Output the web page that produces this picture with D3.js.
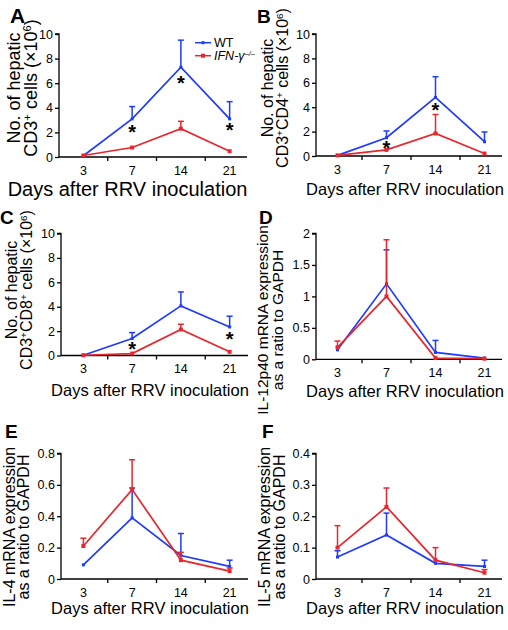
<!DOCTYPE html>
<html><head><meta charset="utf-8">
<script src="https://cdn.jsdelivr.net/npm/d3@7"></script>
<style>
body{margin:0;background:#fff}
text{font-family:"Liberation Sans",Arial,Helvetica,sans-serif}
</style></head>
<body><svg id="chart" width="508" height="630"></svg>
<script>
// ---------- DATA ----------
const days = ["3", "7", "14", "21"];
const seriesNames = ["WT", "IFN-γ"];

// A: CD3+ (x10^6)
const aWT = [0.1, 3.1, 7.3, 3.1];
const aWTErr = [0, 1.0, 2.2, 1.4];
const aKO = [0.12, 0.77, 2.3, 0.47];
const aKOErr = [0, 0, 0.6, 0];
const aStars = [["7", 2.36], ["14", 6.34], ["21", 2.52]];

// B: CD3+CD4+ (x10^6)
const bWT = [0.05, 1.5, 4.8, 1.17];
const bWTErr = [0, 0.55, 1.7, 0.8];
const bKO = [0.05, 0.5, 1.85, 0.2];
const bKOErr = [0, 0, 1.55, 0];
const bStars = [["7", 0.98], ["14", 4.1]];

// C: CD3+CD8+ (x10^6)
const cWT = [0.02, 1.39, 4.07, 2.34];
const cWTErr = [0, 0.49, 1.14, 0.88];
const cKO = [0.02, 0.16, 2.13, 0.3];
const cKOErr = [0, 0, 0.43, 0];
const cStars = [["7", 0.85], ["21", 1.68]];

// D: IL-12p40 mRNA / GAPDH
const dWT = [0.15, 1.2, 0.11, 0.02];
const dWTErr = [0, 0.54, 0.19, 0];
const dKO = [0.19, 1.0, 0.02, 0.01];
const dKOErr = [0.1, 0.9, 0, 0];

// E: IL-4 mRNA / GAPDH
const eWT = [0.09, 0.39, 0.15, 0.08];
const eWTErr = [0, 0.19, 0.14, 0.04];
const eKO = [0.21, 0.57, 0.12, 0.05];
const eKOErr = [0.05, 0.19, 0.05, 0.02];

// F: IL-5 mRNA / GAPDH
const fWT = [0.07, 0.14, 0.05, 0.04];
const fWTErr = [0.02, 0.07, 0, 0.02];
const fKO = [0.10, 0.23, 0.06, 0.02];
const fKOErr = [0.07, 0.06, 0.04, 0.01];

const ticksCells = [0, 2, 4, 6, 8, 10];
const ticksD = [0, 0.5, 1, 1.5, 2];
const ticksE = [0, 0.2, 0.4, 0.6, 0.8];
const ticksF = [0, 0.1, 0.2, 0.3, 0.4];

// ---------- STYLE / LAYOUT ----------
const BLUE = "#1f3bff", RED = "#e8262d";
const svg = d3.select("#chart");

const panels = [
  {id:"A", wt:aWT, wtE:aWTErr, ko:aKO, koE:aKOErr, stars:aStars, ticks:ticksCells,
   ax:59, band:[59,254], axEnd:247, top:34, bot:157,
   lab:[10,23,21], tl:[["No. of hepatic"],[["CD3"],["+","sup"],[" cells (×10"],["6","sup"],[")"]]],
   tb:[20,37], tc:88, tfs:18, xt:[127.5,196,20], legend:true},
  {id:"B", wt:bWT, wtE:bWTErr, ko:bKO, koE:bKOErr, stars:bStars, ticks:ticksCells,
   ax:316, band:[313,509], axEnd:502, top:34, bot:156,
   lab:[257,23,19], tl:[["No. of hepatic"],[["CD3"],["+","sup"],["CD4"],["+","sup"],[" cells (×10"],["6","sup"],[")"]]],
   tb:[273,288], tc:88, tfs:16, xt:[405,195,16.5]},
  {id:"C", wt:cWT, wtE:cWTErr, ko:cKO, koE:cKOErr, stars:cStars, ticks:ticksCells,
   ax:61, band:[59,254], axEnd:248, top:233.5, bot:355.5,
   lab:[0,224,19], tl:[["No. of hepatic"],[["CD3"],["+","sup"],["CD8"],["+","sup"],[" cells (×10"],["6","sup"],[")"]]],
   tb:[17,32], tc:290, tfs:16, xt:[150,396,16.5]},
  {id:"D", wt:dWT, wtE:dWTErr, ko:dKO, koE:dKOErr, stars:[], ticks:ticksD,
   ax:316, band:[313,509], axEnd:502, top:233.5, bot:359.3,
   lab:[259,224,19], tl:[["IL-12p40 mRNA expression"],["as a ratio to GAPDH"]],
   tb:[268,283], tc:320, tfs:15.5, xt:[405,397,16.5]},
  {id:"E", wt:eWT, wtE:eWTErr, ko:eKO, koE:eKOErr, stars:[], ticks:ticksE,
   ax:61, band:[59,254], axEnd:248, top:453.5, bot:579,
   lab:[5,438,19], tl:[["IL-4 mRNA expression"],["as a ratio to GAPDH"]],
   tb:[15,29], tc:527, tfs:16, xt:[150,614,16.5]},
  {id:"F", wt:fWT, wtE:fWTErr, ko:fKO, koE:fKOErr, stars:[], ticks:ticksF,
   ax:316, band:[313,509], axEnd:502, top:453.5, bot:579,
   lab:[262,438,19], tl:[["IL-5 mRNA expression"],["as a ratio to GAPDH"]],
   tb:[270,285], tc:527, tfs:16, xt:[405,614,16.5]}
];

function addLine(sel, line){
  if (typeof line[0] === "string") { sel.text(line[0]); return; }
  let prevSup = false;
  line.forEach(seg => {
    const isSup = seg[1] === "sup";
    const t = sel.append("tspan").text(seg[0]);
    if (isSup) t.attr("font-size","0.62em").attr("dy", prevSup ? 0 : "-0.55em");
    else if (prevSup) t.attr("dy","0.34em");
    prevSup = isSup;
  });
}

panels.forEach(p => {
  const g = svg.append("g");
  const x = d3.scaleBand().domain(days).range(p.band);
  const cx = d => x(d) + x.bandwidth()/2;
  const yMax = p.ticks[p.ticks.length-1];
  const y = d3.scaleLinear().domain([0, yMax]).range([p.bot, p.top]);

  const ya = g.append("g").attr("transform",`translate(${p.ax},0)`)
    .call(d3.axisLeft(y).tickValues(p.ticks).tickSize(4).tickPadding(2).tickFormat(d3.format("~g")));
  ya.select(".domain").attr("d", `M-4,${p.top}H0V${p.bot}`).attr("stroke","#000").attr("stroke-width",1.3);
  ya.selectAll(".tick line").attr("stroke","#000").attr("stroke-width",1.3);
  ya.selectAll(".tick text").attr("font-size",12.5).attr("fill","#000")
    .style("font-family",'"Liberation Sans",Arial,sans-serif');

  const xa = g.append("g").attr("transform",`translate(0,${p.bot})`)
    .call(d3.axisBottom(x).tickSize(0).tickPadding(6));
  xa.select(".domain").attr("d", `M${p.ax},0H${p.axEnd}`).attr("stroke","#000").attr("stroke-width",1.3);
  xa.selectAll(".tick text").attr("font-size",12.5).attr("fill","#000").attr("dy","0.95em")
    .style("font-family",'"Liberation Sans",Arial,sans-serif');
  g.append("g").selectAll("line").data(days.slice(1)).join("line")
    .attr("x1", d => x(d)).attr("x2", d => x(d))
    .attr("y1", p.bot).attr("y2", p.bot + 4)
    .attr("stroke","#000").attr("stroke-width",1.3);

  g.append("text").attr("x",p.xt[0]).attr("y",p.xt[1]).attr("text-anchor","middle")
    .attr("font-size",p.xt[2]).text("Days after RRV inoculation");

  p.tl.forEach((line,i) => {
    const t = g.append("text")
      .attr("transform",`translate(${p.tb[i]},${p.tc}) rotate(-90)`)
      .attr("text-anchor","middle").attr("font-size",p.tfs);
    addLine(t, line);
  });

  g.append("text").attr("x",p.lab[0]).attr("y",p.lab[1]).attr("font-size",p.lab[2])
    .attr("font-weight","bold").text(p.id);

  const series = [
    {vals:p.wt, err:p.wtE, color:BLUE, ms:3},
    {vals:p.ko, err:p.koE, color:RED, ms:4}
  ];
  series.forEach(s => {
    const pts = days.map((d,i) => ({d, v:s.vals[i], e:s.err[i]}));
    const eb = g.append("g").attr("stroke",s.color).attr("stroke-width",1.5);
    pts.filter(q => q.e > 0).forEach(q => {
      eb.append("line").attr("x1",cx(q.d)).attr("x2",cx(q.d)).attr("y1",y(q.v)).attr("y2",y(q.v+q.e));
      eb.append("line").attr("x1",cx(q.d)-3).attr("x2",cx(q.d)+3).attr("y1",y(q.v+q.e)).attr("y2",y(q.v+q.e));
    });
    g.append("path").datum(pts)
      .attr("d", d3.line().x(q => cx(q.d)).y(q => y(q.v)))
      .attr("fill","none").attr("stroke",s.color).attr("stroke-width",1.7);
    g.append("g").selectAll("rect").data(pts).join("rect")
      .attr("x", q => cx(q.d) - s.ms/2).attr("y", q => y(q.v) - s.ms/2)
      .attr("width", s.ms).attr("height", s.ms).attr("fill", s.color);
  });

  g.append("g").selectAll("text").data(p.stars).join("text")
    .attr("x", s => cx(s[0])).attr("y", s => y(s[1]) + 11)
    .attr("text-anchor","middle").attr("font-size",20).attr("font-weight","bold")
    .attr("fill","#000").text("*");

  if (p.legend) {
    const lg = g.append("g");
    const items = [{name:seriesNames[0], color:BLUE, ms:3}, {name:seriesNames[1], color:RED, ms:4, ko:true}];
    items.forEach((it,i) => {
      const yy = 42.7 + i*13;
      lg.append("line").attr("x1",195).attr("x2",211).attr("y1",yy).attr("y2",yy)
        .attr("stroke",it.color).attr("stroke-width",1.5);
      lg.append("rect").attr("x",203-it.ms/2).attr("y",yy-it.ms/2).attr("width",it.ms).attr("height",it.ms).attr("fill",it.color);
      const t = lg.append("text").attr("x",214).attr("y",yy+4.5).attr("font-size",12.5);
      if (it.ko) {
        t.attr("font-style","italic").text(it.name);
        t.append("tspan").attr("font-size","0.6em").attr("dy","-0.6em").text("–/–");
      } else t.text(it.name);
    });
  }
});
</script>
</body></html>
